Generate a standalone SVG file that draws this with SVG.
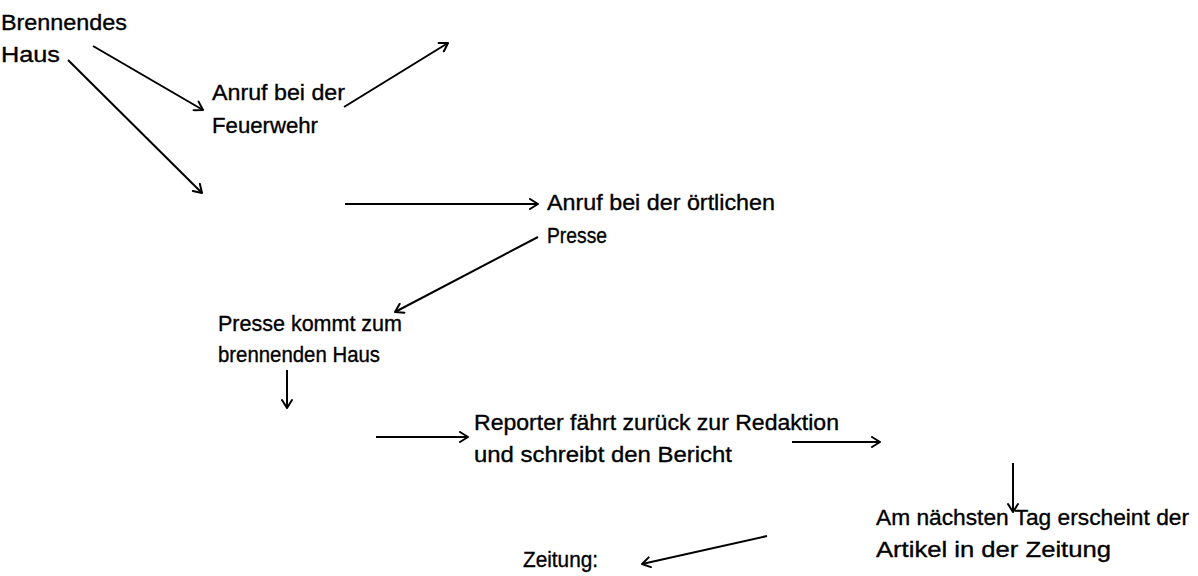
<svg xmlns="http://www.w3.org/2000/svg" width="1198" height="576" viewBox="0 0 1198 576">
<defs>
<marker id="ah" viewBox="0 0 12 12" refX="10" refY="6" markerWidth="12" markerHeight="12" markerUnits="userSpaceOnUse" orient="auto">
<path d="M2,1 L10,6 L2,11" fill="none" stroke="#000" stroke-width="2" stroke-linecap="round" stroke-linejoin="round"/>
</marker>
<style>
text{font-family:"Liberation Sans",Arial,sans-serif;font-size:22px;fill:#000;stroke:#000;stroke-width:0.35}
.c line{stroke:#000;stroke-width:2;fill:none;marker-end:url(#ah)}
</style>
</defs>
<rect width="1198" height="576" fill="#fff"/>
<g id="n1"><text x="1" y="29.5" textLength="126" lengthAdjust="spacingAndGlyphs">Brennendes</text><text x="1" y="62" textLength="59" lengthAdjust="spacingAndGlyphs">Haus</text></g>
<g id="n2"><text x="212" y="100" textLength="133" lengthAdjust="spacingAndGlyphs">Anruf bei der</text><text x="212" y="133" textLength="106" lengthAdjust="spacingAndGlyphs">Feuerwehr</text></g>
<g id="n3"><text x="547" y="210" textLength="228" lengthAdjust="spacingAndGlyphs">Anruf bei der örtlichen</text><text x="547" y="243" textLength="60" lengthAdjust="spacingAndGlyphs">Presse</text></g>
<g id="n4"><text x="218" y="331" textLength="184" lengthAdjust="spacingAndGlyphs">Presse kommt zum</text><text x="218" y="362" textLength="162" lengthAdjust="spacingAndGlyphs">brennenden Haus</text></g>
<g id="n5"><text x="474" y="430" textLength="365" lengthAdjust="spacingAndGlyphs">Reporter fährt zurück zur Redaktion</text><text x="474" y="462" textLength="258" lengthAdjust="spacingAndGlyphs">und schreibt den Bericht</text></g>
<g id="n6"><text x="876" y="525" textLength="313" lengthAdjust="spacingAndGlyphs">Am nächsten Tag erscheint der</text><text x="876" y="557" textLength="235" lengthAdjust="spacingAndGlyphs">Artikel in der Zeitung</text></g>
<g id="n7"><text x="523" y="567" textLength="75" lengthAdjust="spacingAndGlyphs">Zeitung:</text></g>
<g id="connectors" class="c">
<line x1="93" y1="46" x2="203" y2="110"/>
<line x1="68" y1="60" x2="202" y2="193"/>
<line x1="344" y1="107" x2="448" y2="43"/>
<line x1="345" y1="204" x2="538" y2="204"/>
<line x1="538" y1="237" x2="395" y2="312"/>
<line x1="287" y1="370" x2="287" y2="408"/>
<line x1="376" y1="437" x2="468" y2="437"/>
<line x1="792" y1="442" x2="880" y2="442"/>
<line x1="1013" y1="463" x2="1013" y2="512"/>
<line x1="767" y1="536" x2="642" y2="564"/>
</g>
</svg>
